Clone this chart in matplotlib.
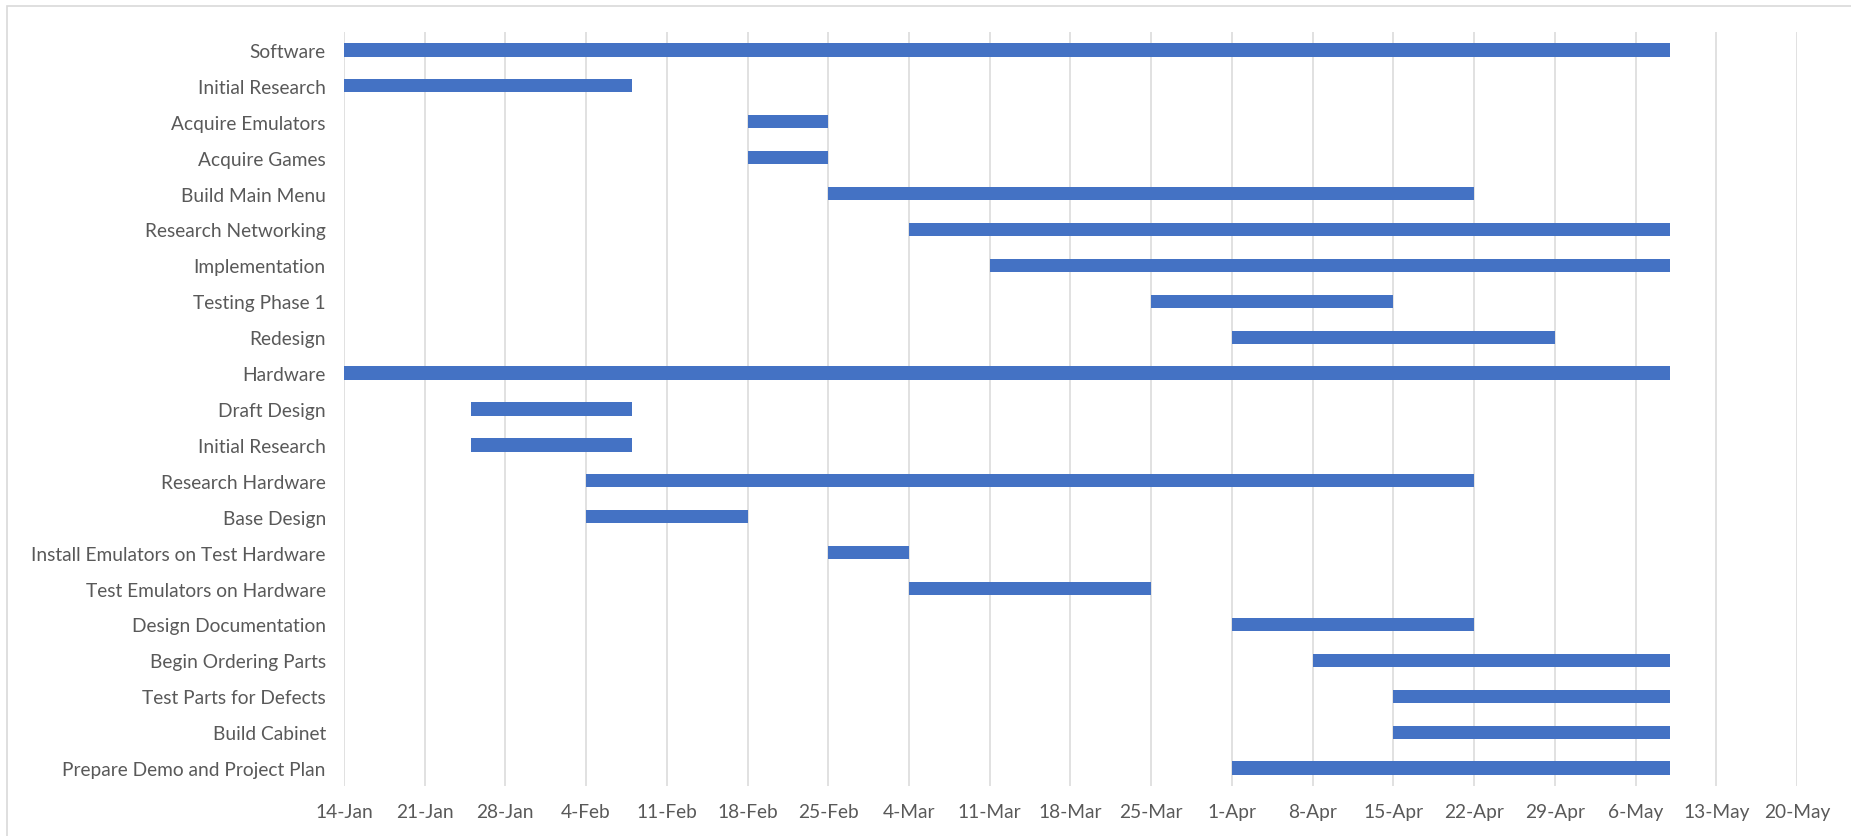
import matplotlib.pyplot as plt
import matplotlib.dates as mdates
import pandas as pd
from matplotlib.patches import Rectangle

# tasks, top to bottom as they appear on the chart
tasks = ['Software', 'Initial Research', 'Acquire Emulators', 'Acquire Games',
         'Build Main Menu', 'Research Networking', 'Implementation', 'Testing Phase 1',
         'Redesign', 'Hardware', 'Draft Design', 'Initial Research', 'Research Hardware',
         'Base Design', 'Install Emulators on Test Hardware', 'Test Emulators on Hardware',
         'Design Documentation', 'Begin Ordering Parts', 'Test Parts for Defects',
         'Build Cabinet', 'Prepare Demo and Project Plan']
start_dates = ['2019-01-14', '2019-01-14', '2019-02-18', '2019-02-18',
               '2019-02-25', '2019-03-04', '2019-03-11', '2019-03-25',
               '2019-04-01', '2019-01-14', '2019-01-25', '2019-01-25', '2019-02-04',
               '2019-02-04', '2019-02-25', '2019-03-04',
               '2019-04-01', '2019-04-08', '2019-04-15',
               '2019-04-15', '2019-04-01']
end_dates = ['2019-05-09', '2019-02-08', '2019-02-25', '2019-02-25',
             '2019-04-22', '2019-05-09', '2019-05-09', '2019-04-15',
             '2019-04-29', '2019-05-09', '2019-02-08', '2019-02-08', '2019-04-22',
             '2019-02-18', '2019-03-04', '2019-03-25',
             '2019-04-22', '2019-05-09', '2019-05-09',
             '2019-05-09', '2019-05-09']
axis_start = '2019-01-14'
axis_end = '2019-05-20'

plt.rcParams['font.family'] = ['Lato', 'DejaVu Sans']

starts = mdates.date2num(pd.to_datetime(start_dates))
ends = mdates.date2num(pd.to_datetime(end_dates))
ypos = list(range(len(tasks)))

fig = plt.figure(figsize=(18.51, 8.37), dpi=100)
ax = fig.add_axes([0.1858, 0.0597, 0.9708 - 0.1858, 0.9606 - 0.0597])

ax.barh(ypos, ends - starts, left=starts, height=0.37, color='#4472C4', zorder=3)

ax.set_ylim(len(tasks) - 0.5, -0.5)
ax.set_yticks(ypos)
ax.set_yticklabels(tasks)

ax.set_xlim(mdates.date2num(pd.Timestamp(axis_start)), mdates.date2num(pd.Timestamp(axis_end)))
ticks = pd.date_range(axis_start, axis_end, freq='7D')
ax.set_xticks(mdates.date2num(ticks))
ax.set_xticklabels([f"{d.day}-{d.strftime('%b')}" for d in ticks])

ax.grid(axis='x', color='#D9D9D9', linewidth=1.1, zorder=0)
for s in ax.spines.values():
    s.set_visible(False)
ax.tick_params(axis='both', length=0, labelsize=13.8, labelcolor='#595959')
ax.tick_params(axis='y', pad=13)
ax.tick_params(axis='x', pad=12)

# outer chart border (cut off at right and bottom)
fig.patches.append(Rectangle((7 / 1851, -0.1), 1.2, 1 - 7 / 837 + 0.1, transform=fig.transFigure,
                             fill=False, edgecolor='#D9D9D9', linewidth=1.2))

fig.savefig('out.png', dpi=100)
